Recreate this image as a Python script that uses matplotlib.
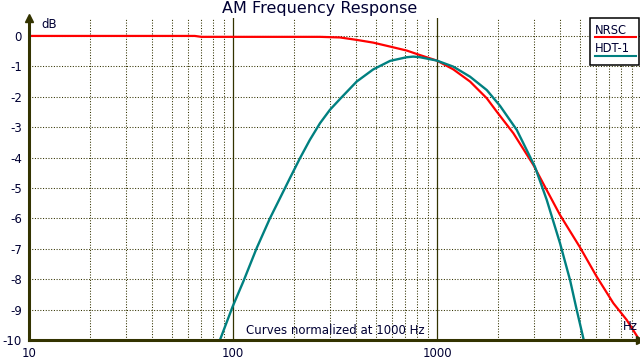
import matplotlib
matplotlib.use("Agg")
import matplotlib.pyplot as plt
from matplotlib.patches import Rectangle
from matplotlib.lines import Line2D

# values
nrsc_f = [10, 65, 70, 267, 335, 404, 487, 589, 710, 826, 998, 1202, 1452, 1754,
          1963, 2368, 2966, 3450, 4010, 5020, 6070, 7320, 8510, 9700, 10000]
nrsc_db = [0, 0, -0.03, -0.03, -0.05, -0.13, -0.22, -0.35, -0.48, -0.63, -0.81, -1.1,
           -1.5, -2.05, -2.49, -3.2, -4.24, -5.07, -5.89, -6.95, -7.92, -8.79, -9.34,
           -9.94, -10.1]

hdt_f = [86.3, 99.6, 112.3, 130.6, 151.7, 169.8, 190, 213, 238, 267, 298.6, 335, 404,
         487, 589, 710, 765, 826, 998, 1202, 1452, 1754, 2037, 2460, 3020, 3450, 4010,
         4490, 4840, 5240]
hdt_db = [-10, -8.9, -8.08, -6.98, -6.0, -5.34, -4.68, -4.02, -3.42, -2.87, -2.43,
          -2.07, -1.5, -1.1, -0.82, -0.70, -0.68, -0.70, -0.81, -1.01, -1.34, -1.78,
          -2.3, -3.09, -4.3, -5.39, -6.82, -8.03, -9.01, -10]

y_ticks = list(range(0, -11, -1))
x_ticks = [10, 100, 1000]
minor_x = [m * d for d in (10, 100, 1000) for m in range(2, 10)]

W, H = 640, 360
ink = "#333300"
txt = "#000033"

fig = plt.figure(figsize=(6.4, 3.6), dpi=100)
ax = fig.add_axes([29 / W, 20 / H, 612 / W, 322 / H])
ax.set_xscale("log")
ax.set_xlim(10, 10000)
ax.set_ylim(-10, 0.59)

for s in ax.spines.values():
    s.set_visible(False)

# grid
for v in minor_x:
    ax.axvline(v, color=ink, lw=0.75, ls=(0, (1, 1.6)), zorder=1)
for v in [100, 1000]:
    ax.axvline(v, color=ink, lw=0.9, zorder=1)
for h in range(-9, 1):
    ax.axhline(h, color=ink, lw=0.75, ls=(0, (1, 1.6)), zorder=1)

ax.plot(nrsc_f, nrsc_db, color="#ff0000", lw=1.6, zorder=3)
ax.plot(hdt_f, hdt_db, color="#008080", lw=1.7, zorder=3)

# axes with arrows
ax.plot([0, 0], [0, 1], color=ink, lw=2.2, transform=ax.transAxes, clip_on=False, zorder=4)
ax.plot([0, 1], [0, 0], color=ink, lw=2.2, transform=ax.transAxes, clip_on=False, zorder=4)
ax.plot(0, 1, marker="^", ms=6, color=ink, transform=ax.transAxes, clip_on=False, zorder=4)
ax.plot(611 / 612, 0, marker=">", ms=6, color=ink, transform=ax.transAxes, clip_on=False, zorder=4)

ax.set_yticks(y_ticks)
ax.set_yticklabels([str(t) for t in y_ticks])
ax.set_xticks(x_ticks)
ax.set_xticklabels([str(t) for t in x_ticks])
ax.minorticks_off()
ax.tick_params(axis="both", length=0, labelsize=8.5, labelcolor=txt)
ax.tick_params(axis="y", pad=5)
ax.tick_params(axis="x", pad=5)


def px(x, y):
    return x / W, 1 - y / H


fig.text(*px(320, 9), "AM Frequency Response", ha="center", va="center",
         fontsize=11.5, color=txt)
fig.text(*px(41, 25), "dB", ha="left", va="center", fontsize=8.5, color=txt)
fig.text(*px(638, 327), "Hz", ha="right", va="center", fontsize=8.5, color=txt)
fig.text(*px(335, 330), "Curves normalized at 1000 Hz", ha="center", va="center",
         fontsize=8.5, color=txt)

# legend box
x0, y0 = px(590, 65)
fig.patches.append(Rectangle((x0, y0), 49 / W, 47 / H, transform=fig.transFigure,
                             facecolor="white", edgecolor="black", lw=1.1, zorder=5))
fig.text(*px(595, 30), "NRSC", ha="left", va="center", fontsize=8.3, color=txt, zorder=6)
fig.lines.append(Line2D([595 / W, 636 / W], [1 - 37 / H] * 2, color="#ff0000", lw=1.5,
                        transform=fig.transFigure, zorder=6))
fig.text(*px(595, 49), "HDT-1", ha="left", va="center", fontsize=8.3, color=txt, zorder=6)
fig.lines.append(Line2D([595 / W, 636 / W], [1 - 56 / H] * 2, color="#008080", lw=1.5,
                        transform=fig.transFigure, zorder=6))

fig.savefig("out.png", dpi=100)
